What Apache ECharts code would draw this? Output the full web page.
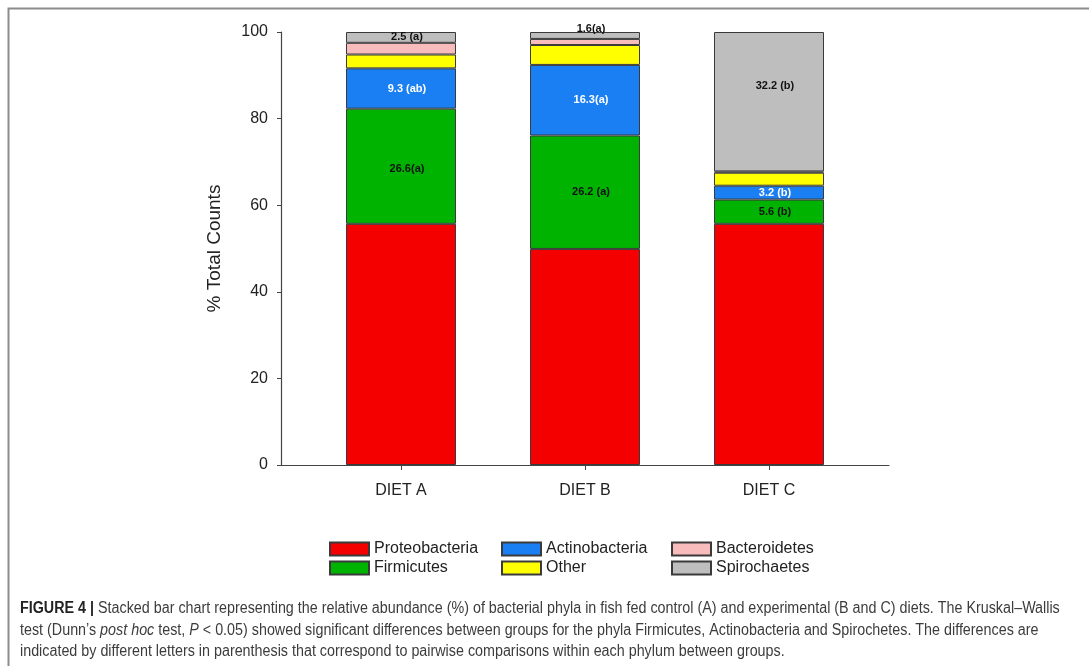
<!DOCTYPE html>
<html>
<head>
<meta charset="utf-8">
<script src="https://cdn.jsdelivr.net/npm/echarts@6/dist/echarts.min.js"></script>
<style>
html,body{margin:0;padding:0;background:#fff;}
#chart{width:1089px;height:666px;}
</style>
</head>
<body>
<div id="chart"></div>
<script>
// ---- data ----
var categories = ['DIET A', 'DIET B', 'DIET C'];
var proteobacteria = [55.7, 49.9, 55.7];
var firmicutes = [26.6, 26.2, 5.6];
var actinobacteria = [9.3, 16.3, 3.2];
var other = [3.2, 4.6, 3.0];
var bacteroidetes = [2.7, 1.4, 0.3];
var spirochaetes = [2.5, 1.6, 32.2];
var firmicutesLabels = ['26.6(a)', '26.2 (a)', '5.6 (b)'];
var actinobacteriaLabels = ['9.3 (ab)', '16.3(a)', '3.2 (b)'];
var spirochaetesLabels = ['2.5 (a)', '1.6(a)', '32.2 (b)'];
var yTicks = [0, 20, 40, 60, 80, 100];
var seriesNames = ['Proteobacteria', 'Firmicutes', 'Actinobacteria', 'Other', 'Bacteroidetes', 'Spirochaetes'];
var captionLines = [
  '{b|FIGURE 4 |} Stacked bar chart representing the relative abundance (%) of bacterial phyla in fish fed control (A) and experimental (B and C) diets. The Kruskal\u2013Wallis',
  'test (Dunn\u2019s {i|post hoc} test, {i|P} < 0.05) showed significant differences between groups for the phyla Firmicutes, Actinobacteria and Spirochetes. The differences are',
  'indicated by different letters in parenthesis that correspond to pairwise comparisons within each phylum between groups.'
];

// ---- styles ----
var colors = {
  Proteobacteria: '#f50000',
  Firmicutes: '#00b300',
  Actinobacteria: '#1a7ff2',
  Other: '#ffff00',
  Bacteroidetes: '#f8bcbc',
  Spirochaetes: '#bebebe'
};
var FONT = '"Liberation Sans", Arial, Helvetica, sans-serif';
var baseLabel = {show: true, position: 'inside', fontFamily: FONT, fontWeight: 'bold', fontSize: 11, offset: [6, 0]};

function withLabels(values, labels, colorsArr, extra) {
  return values.map(function (v, i) {
    var lab = Object.assign({}, baseLabel, {formatter: labels[i], color: colorsArr[i]}, (extra && extra[i]) || {});
    return {value: v, label: lab};
  });
}

var dataBySeries = {
  Proteobacteria: proteobacteria,
  Firmicutes: withLabels(firmicutes, firmicutesLabels, ['#111', '#111', '#111'], [{offset: [6, 3]}, {}, {}]),
  Actinobacteria: withLabels(actinobacteria, actinobacteriaLabels, ['#fff', '#fff', '#fff']),
  Other: other,
  Bacteroidetes: bacteroidetes,
  Spirochaetes: withLabels(spirochaetes, spirochaetesLabels, ['#111', '#111', '#111'],
    [{}, {position: 'top', distance: -2}, {position: 'insideTop', distance: 48}])
};

var series = seriesNames.map(function (name) {
  return {
    name: name,
    type: 'bar',
    stack: 'total',
    xAxisIndex: 0,
    yAxisIndex: 0,
    barWidth: 110,
    data: dataBySeries[name],
    itemStyle: {color: colors[name], borderColor: '#3a3a3a', borderWidth: 1},
    emphasis: {disabled: true},
    animation: false
  };
});

var legendCommon = {
  orient: 'vertical',
  top: 535,
  itemWidth: 39,
  itemHeight: 13,
  itemGap: 1,
  icon: 'rect',
  selectedMode: false,
  textStyle: {fontFamily: FONT, fontSize: 16, color: '#222', lineHeight: 18}
};

var CAPFONT = '"Liberation Sans", Arial, sans-serif';
var captionGraphics = captionLines.map(function (line, i) {
  return {
    type: 'text',
    left: 20,
    top: 601 + i * 21.5,
    scaleX: 0.895,
    silent: true,
    style: {
      text: line,
      fontFamily: CAPFONT,
      fontSize: 16,
      fill: '#3c3c3c',
      rich: {
        b: {fontWeight: 'bold', fontFamily: CAPFONT, fontSize: 16, fill: '#222'},
        i: {fontStyle: 'italic', fontFamily: CAPFONT, fontSize: 16, fill: '#3c3c3c'}
      }
    }
  };
});

var option = {
  backgroundColor: '#fff',
  animation: false,
  grid: [
    {left: 309, width: 552, top: 32, bottom: 201},
    {left: 281, width: 608, top: 32, bottom: 201}
  ],
  xAxis: [
    {
      type: 'category', gridIndex: 0, data: categories,
      axisLine: {show: false},
      axisTick: {show: true, alignWithLabel: true, length: 5, lineStyle: {color: '#444'}},
      axisLabel: {fontFamily: FONT, fontSize: 16, color: '#222', margin: 18},
      splitLine: {show: false}
    },
    {
      type: 'value', gridIndex: 1, min: 0, max: 1,
      axisLine: {show: true, lineStyle: {color: '#444', width: 1.2}},
      axisTick: {show: false}, axisLabel: {show: false}, splitLine: {show: false}
    }
  ],
  yAxis: [
    {type: 'value', gridIndex: 0, min: 0, max: 100, show: false},
    {
      type: 'value', gridIndex: 1, min: yTicks[0], max: yTicks[yTicks.length - 1], interval: yTicks[1] - yTicks[0],
      name: '% Total Counts', nameLocation: 'middle', nameGap: 57, nameRotate: 90,
      nameTextStyle: {fontFamily: FONT, fontSize: 19, color: '#222'},
      axisLine: {show: true, lineStyle: {color: '#444', width: 1.2}},
      axisTick: {show: true, length: 4, lineStyle: {color: '#444'}},
      axisLabel: {fontFamily: FONT, fontSize: 16, color: '#222', margin: 13},
      splitLine: {show: false}
    }
  ],
  legend: [
    Object.assign({}, legendCommon, {left: 324, data: ['Proteobacteria', 'Firmicutes']}),
    Object.assign({}, legendCommon, {left: 496, data: ['Actinobacteria', 'Other']}),
    Object.assign({}, legendCommon, {left: 666, data: ['Bacteroidetes', 'Spirochaetes']})
  ],
  series: series,
  graphic: [
    {
      type: 'rect', left: 6, top: 6, silent: true,
      shape: {width: 1200, height: 800},
      style: {fill: 'none', stroke: '#8c8c8c', lineWidth: 2}
    }
  ].concat(captionGraphics)
};

var chart = echarts.init(document.getElementById('chart'), null, {renderer: 'canvas'});
chart.setOption(option);
</script>
</body>
</html>
